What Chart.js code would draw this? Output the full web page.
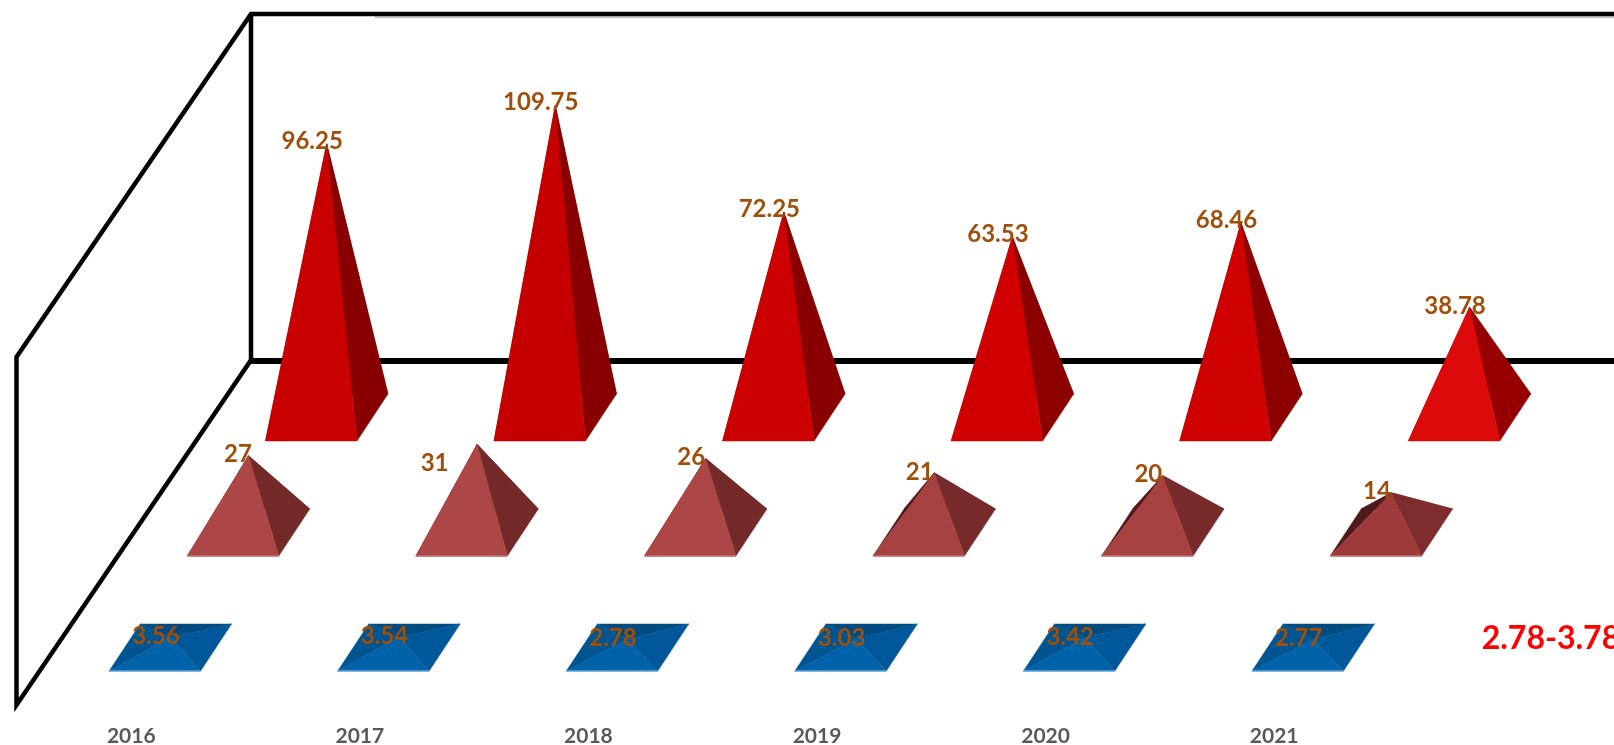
<!DOCTYPE html>
<html>
<head>
<meta charset="utf-8">
<title>Pyramids</title>
<script src="https://cdn.jsdelivr.net/npm/chart.js@4/dist/chart.umd.min.js"></script>
<style>
html, body { margin: 0; padding: 0; background: #fff; overflow: hidden; width: 1614px; height: 745px; }
canvas { display: block; }
</style>
</head>
<body>
<canvas id="grafico" width="1650" height="745"></canvas>
<script>
const anios = ['2016', '2017', '2018', '2019', '2020', '2021', ''];
const serieAzul = [3.56, 3.54, 2.78, 3.03, 3.42, 2.77, null];
const serieRosa = [27, 31, 26, 21, 20, 14, null];
const serieRoja = [96.25, 109.75, 72.25, 63.53, 68.46, 38.78, null];
const textoRango = '2.78-3.78';

// colores de las caras: frente, derecha, atras, izquierda
const coloresAzul = [['#0062a8', '#00589a', '#004c80', '#005590']];
const coloresRosa = [
    ['#ad4646', '#752a2a', '#5a2020', '#4e1a1a'],
    ['#ad4646', '#752a2a', '#5a2020', '#4e1a1a'],
    ['#ad4646', '#752a2a', '#5a2020', '#4e1a1a'],
    ['#a64242', '#772b2b', '#5a2020', '#4e1a1a'],
    ['#a64242', '#772b2b', '#5a2020', '#4e1a1a'],
    ['#9e3a3a', '#7e2c2e', '#5a2020', '#4e1a1a']
];
const coloresRoja = [
    ['#c80000', '#880000', '#600000', '#600000'],
    ['#c60000', '#880000', '#600000', '#600000'],
    ['#cc0000', '#8a0000', '#600000', '#600000'],
    ['#d00000', '#8c0000', '#600000', '#600000'],
    ['#ce0000', '#8c0000', '#600000', '#600000'],
    ['#dc0a0a', '#960000', '#600000', '#600000']
];
const coloresFilas = [coloresAzul, coloresRosa, coloresRoja];
const bordeFilas = ['#6aaad8', '#c47070', null];

// fondo del piso y caja de cada piramide
const pisoX = 234.5, pisoY = 345;
const cajaX = 31, cajaY = 47;
const subirEtiqueta = [1, 1, 3];
// las etiquetas que no estan sobre su piramide: fila, indice, dx, dy
const etiquetasMovidas = [[1, 0, 4, 0], [1, 1, -28, 20], [2, 5, 0, 2]];

function cara(ctx, color, puntos) {
    ctx.fillStyle = color;
    ctx.strokeStyle = color;
    ctx.lineWidth = 0.5;
    ctx.beginPath();
    puntos.forEach(function (p, i) {
        if (i === 0) ctx.moveTo(p[0], p[1]); else ctx.lineTo(p[0], p[1]);
    });
    ctx.closePath();
    ctx.fill();
    ctx.stroke();
}

const marcoPlugin = {
    id: 'marco',
    beforeDatasetsDraw(chart) {
        const ctx = chart.ctx, a = chart.chartArea;
        const izq = a.left - 0.5;
        const fondoX = izq + pisoX, techo = a.top - 343, suelo = a.bottom - 345;
        ctx.save();
        ctx.strokeStyle = '#c4c4c4';
        ctx.lineWidth = 2;
        ctx.beginPath();
        ctx.moveTo(375, techo + 3.2);
        ctx.lineTo(chart.width, techo + 3.2);
        ctx.stroke();
        ctx.strokeStyle = '#000';
        ctx.lineWidth = 4.5;
        ctx.lineJoin = 'miter';
        ctx.beginPath();
        ctx.moveTo(chart.width, techo);
        ctx.lineTo(fondoX, techo);
        ctx.lineTo(izq, a.top);
        ctx.lineTo(izq, a.bottom);
        ctx.lineTo(fondoX, suelo);
        ctx.lineTo(fondoX, techo);
        ctx.stroke();
        ctx.lineWidth = 6;
        ctx.beginPath();
        ctx.moveTo(fondoX - 2, suelo + 1);
        ctx.lineTo(chart.width, suelo + 1);
        ctx.stroke();
        ctx.restore();
    }
};

const piramidePlugin = {
    id: 'piramide',
    afterDatasetsDraw(chart) {
        const ctx = chart.ctx;
        ctx.save();
        // de atras hacia adelante
        for (let fila = 2; fila >= 0; fila--) {
            const meta = chart.getDatasetMeta(fila);
            const prof = (fila + 0.5) / 3;
            meta.data.forEach(function (bar, i) {
                const valor = chart.data.datasets[fila].data[i];
                if (valor === null) return;
                const paleta = coloresFilas[fila][i] || coloresFilas[fila][0];
                const cx = bar.x + pisoX * prof;
                const cy = bar.base - pisoY * prof;
                const mw = bar.width / 2;
                const alto = bar.base - bar.y;
                const apice = [cx, cy - alto];
                const fi = [cx - cajaX / 2 - mw, cy + cajaY / 2];
                const fd = [cx - cajaX / 2 + mw, cy + cajaY / 2];
                const ad = [cx + cajaX / 2 + mw, cy - cajaY / 2];
                const ai = [cx + cajaX / 2 - mw, cy - cajaY / 2];
                cara(ctx, paleta[2], [ai, ad, apice]);
                cara(ctx, paleta[3], [fi, ai, apice]);
                cara(ctx, paleta[1], [fd, ad, apice]);
                cara(ctx, paleta[0], [fi, fd, apice]);
                if (bordeFilas[fila]) {
                    ctx.strokeStyle = bordeFilas[fila];
                    ctx.lineWidth = 1.5;
                    ctx.beginPath();
                    ctx.moveTo(fi[0], fi[1]);
                    ctx.lineTo(fd[0], fd[1]);
                    ctx.stroke();
                }
            });
        }
        // etiquetas de valores
        ctx.font = '700 24px Lato';
        ctx.fillStyle = '#9e4f0c';
        ctx.textAlign = 'center';
        ctx.textBaseline = 'middle';
        for (let fila = 0; fila < 3; fila++) {
            const meta = chart.getDatasetMeta(fila);
            const prof = (fila + 0.5) / 3;
            meta.data.forEach(function (bar, i) {
                const valor = chart.data.datasets[fila].data[i];
                if (valor === null) return;
                const mov = etiquetasMovidas.find(m => m[0] === fila && m[1] === i) || [0, 0, 0, 0];
                const x = bar.x + pisoX * prof - cajaX / 2 + 1 + mov[2];
                const y = bar.base - pisoY * prof - (bar.base - bar.y) - subirEtiqueta[fila] + mov[3];
                ctx.fillText(String(valor), x, y);
            });
        }
        // texto del rango en la ultima categoria
        const ultimo = chart.scales.x.getPixelForValue(6);
        ctx.font = '700 32px Lato';
        ctx.fillStyle = '#ff0000';
        ctx.textAlign = 'left';
        ctx.fillText(textoRango, ultimo - 21, chart.scales.y.getPixelForValue(0) - 66);
        ctx.restore();
    }
};

function serie(nombre, valores) {
    return {
        label: nombre,
        data: valores,
        backgroundColor: 'rgba(0,0,0,0)',
        borderWidth: 0,
        grouped: false,
        barPercentage: 0.4,
        categoryPercentage: 1
    };
}

new Chart(document.getElementById('grafico'), {
    type: 'bar',
    plugins: [marcoPlugin, piramidePlugin],
    data: {
        labels: anios,
        datasets: [serie('Azul', serieAzul), serie('Rosa', serieRosa), serie('Roja', serieRoja)]
    },
    options: {
        responsive: false,
        animation: false,
        layout: { padding: { left: 17, right: 33, top: 357, bottom: 0 } },
        plugins: { legend: { display: false }, title: { display: false }, tooltip: { enabled: false } },
        scales: {
            x: {
                grid: { display: false },
                border: { display: false },
                afterFit(scale) { scale.height = 40; },
                ticks: {
                    color: '#595959',
                    font: { family: 'Lato', size: 21, weight: '700' },
                    padding: 11,
                    maxRotation: 0,
                    autoSkip: false
                }
            },
            y: { display: false, min: 0, max: 122.4 }
        }
    }
});
</script>
</body>
</html>
